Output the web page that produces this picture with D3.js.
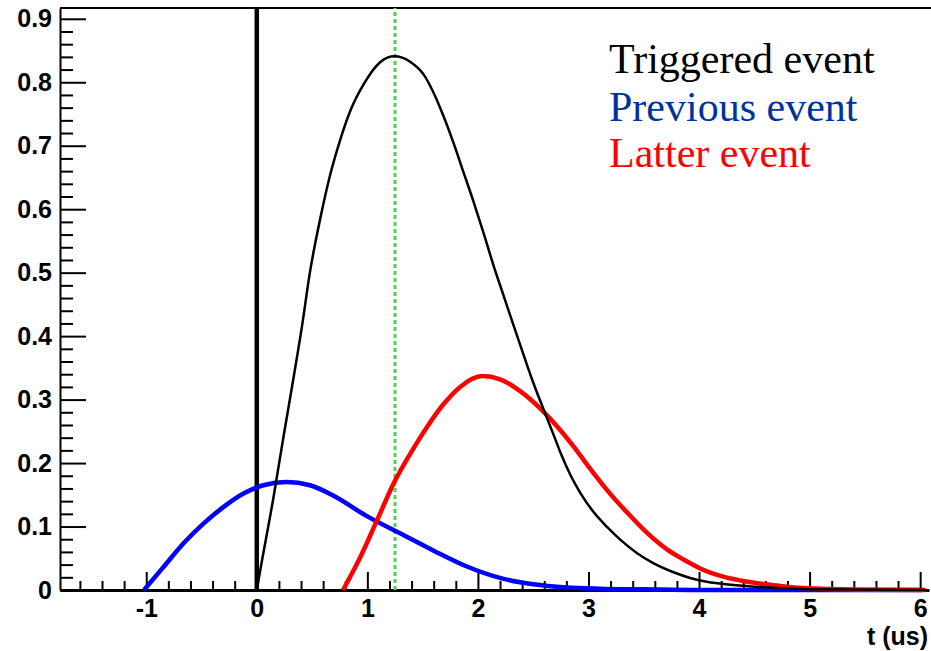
<!DOCTYPE html>
<html>
<head>
<meta charset="utf-8">
<script src="https://cdn.jsdelivr.net/npm/d3@7"></script>
<style>
  body { margin: 0; background: #fff; }
</style>
</head>
<body>
<div id="chart"></div>
<script>
// curves, [t (us), amplitude]
const triggered = [
  [0, 0], [0.03, 0.03], [0.15, 0.145], [0.24, 0.24], [0.33, 0.332], [0.41, 0.417],
  [0.48, 0.5], [0.575, 0.586], [0.665, 0.655], [0.756, 0.71], [0.846, 0.755],
  [0.967, 0.797], [1.118, 0.832], [1.244, 0.841], [1.39, 0.832], [1.51, 0.812],
  [1.6, 0.783], [1.69, 0.746], [1.78, 0.704], [1.87, 0.658], [1.96, 0.612],
  [2.05, 0.563], [2.14, 0.512], [2.23, 0.465], [2.32, 0.418], [2.41, 0.372],
  [2.5, 0.327], [2.6, 0.282], [2.69, 0.242], [2.75, 0.215], [2.84, 0.18],
  [2.93, 0.152], [3.05, 0.122], [3.17, 0.099], [3.29, 0.079], [3.44, 0.058],
  [3.59, 0.042], [3.77, 0.028], [3.92, 0.019], [4.07, 0.013], [4.31, 0.008],
  [4.62, 0.004], [5.0, 0.001], [6.05, 0]
];
const previous = [
  [-1.02, 0], [-0.84, 0.037], [-0.66, 0.074], [-0.48, 0.105], [-0.3, 0.131],
  [-0.12, 0.152], [0.06, 0.165], [0.27, 0.17], [0.48, 0.165], [0.69, 0.149],
  [1.0, 0.116], [1.3, 0.089], [1.6, 0.062], [1.9, 0.037], [2.2, 0.019],
  [2.5, 0.009], [2.8, 0.004], [3.1, 0.002], [3.5, 0.001], [4.0, 0], [6.02, 0]
];
const latter = [
  [0.78, 0], [0.937, 0.052], [1.088, 0.11], [1.238, 0.168], [1.389, 0.215],
  [1.54, 0.257], [1.69, 0.293], [1.84, 0.32], [2.04, 0.337], [2.2, 0.332],
  [2.385, 0.313], [2.57, 0.285], [2.75, 0.251], [2.87, 0.225], [3.02, 0.19],
  [3.17, 0.157], [3.35, 0.122], [3.53, 0.09], [3.71, 0.064], [3.86, 0.048],
  [4.01, 0.034], [4.22, 0.021], [4.44, 0.013], [4.65, 0.008], [4.86, 0.004],
  [5.1, 0.002], [5.5, 0.0005], [6.05, 0]
];

const triggerTime = 0;
const peakTime = 1.25;

const xTicks = [-1, 0, 1, 2, 3, 4, 5, 6];
const yTicks = [0, 0.1, 0.2, 0.3, 0.4, 0.5, 0.6, 0.7, 0.8, 0.9];
const xTitle = "t (us)";

const legendLabels = ["Triggered event", "Previous event", "Latter event"];
const legendColors = ["#000000", "#003399", "#ff0000"];

const width = 931;
const height = 651;
const marginTop = 8;
const marginLeft = 60;
const plotRight = 929;
const plotBottom = 590;

const x = d3.scaleLinear()
  .domain([-1.78, 6.08])
  .range([marginLeft, plotRight]);

const y = d3.scaleLinear()
  .domain([0, 0.917])
  .range([plotBottom, marginTop]);

const svg = d3.select("#chart").append("svg")
  .attr("width", width)
  .attr("height", height);

// top frame line
svg.append("line")
  .attr("x1", marginLeft).attr("x2", width)
  .attr("y1", marginTop).attr("y2", marginTop)
  .attr("stroke", "#000").attr("stroke-width", 2);

const axisFont = "'Liberation Sans', Arial, sans-serif";

// x axis, ticks pointing up
const xMinor = d3.range(-1.6, 6.01, 0.2).filter(v => Math.abs(v - Math.round(v)) > 0.01);
svg.append("g")
  .attr("transform", `translate(0,${plotBottom})`)
  .call(d3.axisBottom(x).tickValues(xMinor).tickSize(-9).tickSizeOuter(0).tickFormat(""))
  .call(g => g.select(".domain").remove())
  .call(g => g.selectAll("line").attr("stroke-width", 2));

svg.append("g")
  .attr("transform", `translate(0,${plotBottom})`)
  .call(d3.axisBottom(x).tickValues(xTicks).tickSize(-18).tickSizeOuter(0)
    .tickPadding(9).tickFormat(d => String(d)))
  .call(g => g.select(".domain").attr("stroke-width", 3))
  .call(g => g.selectAll("line").attr("stroke-width", 2))
  .call(g => g.selectAll("text")
    .attr("font-family", axisFont).attr("font-weight", "bold")
    .attr("font-size", 25).attr("fill", "#000"));

// y axis, ticks pointing right
const yMinor = d3.range(0.02, 0.91, 0.02).filter(v => Math.abs(v * 10 - Math.round(v * 10)) > 0.01);
svg.append("g")
  .attr("transform", `translate(${marginLeft},0)`)
  .call(d3.axisLeft(y).tickValues(yMinor).tickSize(-13).tickSizeOuter(0).tickFormat(""))
  .call(g => g.select(".domain").remove())
  .call(g => g.selectAll("line").attr("stroke-width", 2));

svg.append("g")
  .attr("transform", `translate(${marginLeft},0)`)
  .call(d3.axisLeft(y).tickValues(yTicks).tickSize(-26).tickSizeOuter(0)
    .tickPadding(8).tickFormat(d => d === 0 ? "0" : d.toFixed(1)))
  .call(g => g.select(".domain").attr("stroke-width", 2))
  .call(g => g.selectAll("line").attr("stroke-width", 2))
  .call(g => g.selectAll("text")
    .attr("font-family", axisFont).attr("font-weight", "bold")
    .attr("font-size", 25).attr("fill", "#000"));

svg.append("text")
  .attr("x", 928)
  .attr("y", 645)
  .attr("text-anchor", "end")
  .attr("font-family", axisFont)
  .attr("font-weight", "bold")
  .attr("font-size", 25)
  .text(xTitle);

// trigger marker and peak marker
svg.append("line")
  .attr("x1", x(triggerTime)).attr("x2", x(triggerTime))
  .attr("y1", y(0)).attr("y2", marginTop)
  .attr("stroke", "#000").attr("stroke-width", 4.5);

svg.append("line")
  .attr("x1", x(peakTime)).attr("x2", x(peakTime))
  .attr("y1", y(0)).attr("y2", marginTop)
  .attr("stroke", "#4fd34f").attr("stroke-width", 3)
  .attr("stroke-dasharray", "4,3");

const line = d3.line()
  .x(d => x(d[0]))
  .y(d => y(d[1]))
  .curve(d3.curveMonotoneX);

svg.append("path").datum(previous)
  .attr("fill", "none").attr("stroke", "#0000ff").attr("stroke-width", 4.5)
  .attr("d", line);

svg.append("path").datum(latter)
  .attr("fill", "none").attr("stroke", "#ff0000").attr("stroke-width", 4.5)
  .attr("d", line);

svg.append("path").datum(triggered)
  .attr("fill", "none").attr("stroke", "#000").attr("stroke-width", 2.5)
  .attr("d", line);

// legend
const legendY = [73, 121, 167];
svg.append("g")
  .selectAll("text")
  .data(legendLabels)
  .join("text")
  .attr("x", 609)
  .attr("y", (d, i) => legendY[i])
  .attr("font-family", "'Liberation Serif', 'Times New Roman', serif")
  .attr("font-size", 42)
  .attr("fill", (d, i) => legendColors[i])
  .text(d => d);
</script>
</body>
</html>
